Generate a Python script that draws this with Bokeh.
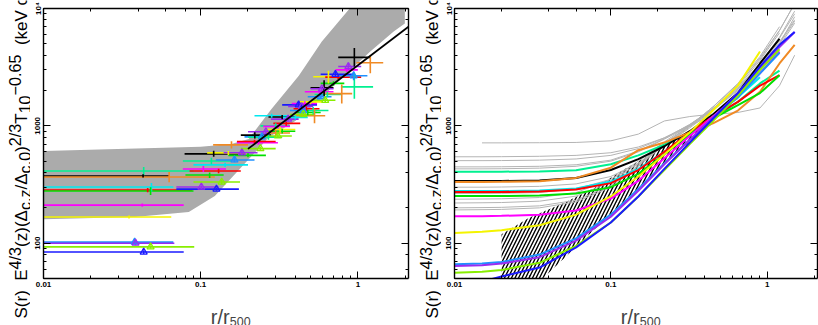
from math import pi, nan
from bokeh.plotting import figure
from bokeh.models import Label, LogAxis, CustomJSTickFormatter, Range1d
from bokeh.layouts import row, column
from bokeh.embed import file_html
from bokeh.resources import INLINE

# ---------------- data: left panel ----------------
band_r = [0.01, 0.1, 0.157, 0.202, 0.283, 0.421, 0.59, 0.92, 1.99,
          1.99, 1.69, 1.2, 0.8, 0.55, 0.4, 0.272, 0.182, 0.123, 0.084, 0.038, 0.01]
band_S = [611, 662, 700, 774, 1397, 2675, 5224, 10600, 12000,
          7450, 6360, 4300, 2600, 1600, 1100, 800, 446, 252, 184, 167, 160]

fit_r = [0.2, 2.1]
fit_S = [636, 7000]

cr_col = ["spring", "black", "orange", "cyan", "red", "green", "magenta", "yellow", "dodger", "purple", "chart", "blue",
          "black", "spring", "cyan", "dodger", "magenta", "red", "green", "chart", "purple", "blue", "orange", "yellow",
          "purple", "green", "black", "purple", "dodger", "magenta", "red", "spring", "chart", "cyan", "black", "purple",
          "spring", "yellow", "orange", "chart", "green", "red", "magenta", "blue", "purple", "dodger", "spring", "orange",
          "green", "chart", "red", "magenta", "cyan", "yellow", "black", "purple", "magenta", "dodger", "spring", "yellow",
          "blue", "red", "orange", "spring", "green", "chart", "black", "purple", "dodger", "orange", "magenta"]
cr_r = [0.0434, 0.043, 0.063, 0.0486, 0.046, 0.048, 0.0425, 0.035, 0.038, 0.0385, 0.048, 0.0434,
        0.121, 0.117, 0.143, 0.164, 0.104, 0.13, 0.114, 0.136, 0.101, 0.126, 0.157, 0.15,
        0.183, 0.2, 0.221, 0.26, 0.245, 0.233, 0.22, 0.27, 0.24, 0.283, 0.33, 0.36,
        0.3, 0.32, 0.3, 0.31, 0.33, 0.35, 0.31, 0.42, 0.44, 0.45, 0.52, 0.53,
        0.48, 0.45, 0.47, 0.46, 0.4, 0.5, 0.61, 0.59, 0.57, 0.58, 0.64, 0.65,
        0.72, 0.75, 0.79, 0.95, 0.7, 0.62, 0.95, 0.87, 0.94, 1.2, 0.85]
cr_rlo = [0.009, 0.009, 0.009, 0.009, 0.009, 0.009, 0.009, 0.009, 0.009, 0.009, 0.009, 0.009,
          0.079, 0.077, 0.09, 0.125, 0.077, 0.085, 0.08, 0.09, 0.07, 0.07, 0.12, 0.11,
          0.14, 0.15, 0.18, 0.2, 0.19, 0.17, 0.17, 0.2, 0.18, 0.22, 0.27, 0.28,
          0.24, 0.26, 0.26, 0.25, 0.27, 0.29, 0.25, 0.33, 0.36, 0.37, 0.42, 0.4,
          0.4, 0.37, 0.39, 0.38, 0.33, 0.42, 0.5, 0.5, 0.46, 0.48, 0.53, 0.52,
          0.58, 0.62, 0.62, 0.78, 0.58, 0.52, 0.75, 0.75, 0.75, 0.98, 0.72]
cr_rhi = [0.090, 0.063, 0.123, 0.067, 0.088, 0.090, 0.078, 0.065, 0.067, 0.068, 0.091, 0.078,
          0.19, 0.157, 0.2, 0.22, 0.145, 0.18, 0.14, 0.178, 0.13, 0.175, 0.2, 0.2,
          0.23, 0.26, 0.28, 0.32, 0.3, 0.31, 0.3, 0.33, 0.3, 0.36, 0.4, 0.42,
          0.37, 0.4, 0.37, 0.38, 0.4, 0.43, 0.37, 0.55, 0.52, 0.55, 0.65, 0.62,
          0.58, 0.53, 0.57, 0.55, 0.48, 0.6, 0.7, 0.7, 0.7, 0.68, 0.78, 0.8,
          0.95, 1.05, 0.92, 1.25, 0.82, 0.72, 1.2, 1.05, 1.15, 1.45, 1.0]
cr_S = [412, 374, 366, 301, 284, 278, 211, 167, 102, 100, 93, 84,
        577, 502, 465, 512, 429, 412, 381, 332, 301, 289, 688, 588,
        589, 560, 834, 890, 806, 717, 735, 800, 640, 1220, 1190, 1140,
        1000, 930, 870, 820, 900, 1050, 990, 1510, 1460, 1350, 1350, 1220,
        1300, 1250, 1400, 1550, 1180, 1600, 2110, 2070, 1950, 1770, 1850, 2620,
        2750, 2600, 1880, 2150, 2300, 1650, 3830, 3200, 2670, 3450, 3000]
cr_Slo = [380, 362, 330, 275, 272, 257, 204, 162, 98, 96, 90, 81,
          545, 470, 445, 490, 405, 395, 360, 320, 290, 280, 640, 565,
          565, 540, 780, 850, 770, 690, 710, 760, 615, 1170, 1140, 1090,
          950, 880, 820, 790, 860, 1000, 950, 1440, 1400, 1290, 1250, 1050,
          1230, 1200, 1340, 1480, 1130, 1530, 1800, 1980, 1860, 1690, 1750, 2300,
          2620, 2480, 1550, 1700, 2200, 1580, 3200, 3000, 2450, 2800, 2880]
cr_Shi = [445, 386, 405, 325, 296, 300, 218, 172, 106, 104, 96, 87,
          612, 535, 485, 535, 455, 430, 400, 345, 312, 298, 740, 610,
          612, 585, 880, 930, 840, 745, 760, 840, 665, 1270, 1240, 1190,
          1050, 980, 920, 850, 940, 1100, 1030, 1580, 1520, 1410, 1450, 1400,
          1370, 1300, 1460, 1620, 1230, 1670, 2450, 2160, 2040, 1850, 1950, 2950,
          2880, 2720, 2250, 2800, 2400, 1720, 4600, 3450, 2900, 4000, 3120]
cr_tri = [0, 0, 0, 0, 0, 0, 0, 0, 1, 1, 1, 1,
          0, 0, 0, 1, 0, 0, 0, 1, 1, 1, 0, 0,
          1, 0, 0, 1, 1, 0, 0, 0, 1, 0, 0, 1,
          0, 0, 0, 1, 0, 0, 0, 1, 1, 1, 0, 0,
          0, 1, 0, 0, 0, 0, 0, 1, 0, 1, 0, 0,
          1, 0, 0, 0, 0, 1, 0, 1, 1, 0, 0]

# ---------------- data: right panel ----------------
r_grid = [0.01, 0.015, 0.02, 0.035, 0.06, 0.1, 0.15, 0.22, 0.32, 0.45, 0.65, 0.9, 1.2, 1.5, 1.9]

S_gray1 = [nan, 716, 716, 718, 722, 745, 850, 1100, 1200, 1260, 1700, 2900, 5000, 8500, nan]
S_gray2 = [545, 545, 546, 550, 560, 590, 660, 790, 1000, 1350, 2050, 3400, 5600, 9000, nan]
S_gray3 = [505, 505, 506, 510, 522, 560, 640, 790, 1020, 1400, 2200, 3800, 6500, 11000, nan]
S_gray4 = [447, 447, 448, 452, 466, 510, 610, 780, 1030, 1400, 2100, 3300, 5200, 8000, nan]
S_gray5 = [430, 430, 431, 436, 452, 500, 600, 770, 1000, 1250, 1300, 1420, 2200, 4000, nan]
S_gray6 = [237, 238, 239, 245, 270, 350, 500, 730, 1020, 1400, 2100, 3400, 5700, 9500, nan]
S_gray7 = [220, 221, 222, 228, 252, 330, 480, 710, 1000, 1400, 2150, 3600, 6200, nan, nan]
S_gray8 = [200, 201, 202, 208, 232, 310, 460, 700, 1000, 1450, 2300, 3900, 7000, nan, nan]
S_gray9 = [192, 193, 194, 200, 225, 300, 450, 690, 1000, 1450, 2250, 3700, 6500, 11000, nan]
S_gray10 = [300, 300, 301, 305, 320, 370, 480, 680, 960, 1350, 2000, 3100, 4800, 7500, nan]
S_gray11 = [265, 265, 266, 270, 290, 350, 470, 680, 980, 1380, 2050, 3200, 5000, 7800, nan]

S_spring = [407, 407, 407, 408, 418, 470, 560, 690, 880, 1150, 1600, 2300, 2950, nan, nan]
S_black = [339, 339, 339, 342, 360, 420, 520, 670, 900, 1250, 1900, 3400, 5500, nan, nan]
S_orange = [332, 332, 333, 337, 360, 440, 620, 720, 880, 1050, 1350, 1950, 3400, 4900, nan]
S_cyan = [278, 278, 278, 281, 292, 335, 430, 600, 850, 1200, 1750, 2600, nan, nan, nan]
S_red = [273, 273, 273, 276, 287, 325, 420, 600, 880, 1200, 1600, 2200, 2700, nan, nan]
S_green = [252, 252, 252, 255, 265, 300, 390, 570, 850, 1150, 1500, 1900, 2700, nan, nan]
S_magenta = [170, 170, 171, 175, 190, 240, 340, 530, 820, 1200, 1800, 2800, 4300, nan, nan]
S_yellow = [122, 125, 129, 142, 175, 250, 370, 570, 880, 1350, 2200, 4300, nan, nan, nan]
S_dodger = [66, 67, 69, 80, 110, 175, 290, 480, 760, 1150, 1750, 2800, 4200, nan, nan]
S_purple = [64, 65, 67, 76, 105, 168, 280, 470, 760, 1180, 1900, 3100, 4700, 6300, nan]
S_chart = [56, 57, 59, 68, 95, 150, 250, 420, 700, 1100, 1800, 3000, 4500, nan, nan]
S_blue = [nan, 47, 52, 62, 92, 150, 250, 430, 720, 1150, 1900, 3200, 4900, 6300, nan]

hatch_r = [0.02, 0.0367, 0.11, 0.22, 0.33, 0.45, 0.45, 0.3, 0.2, 0.12, 0.08, 0.05, 0.03, 0.02]
hatch_S = [45, 50, 200, 470, 760, 1050, 1150, 850, 620, 420, 300, 220, 165, 119]

COL = dict(black="#000000", orange="#f08a24", spring="#00f090", cyan="#00e8f0", red="#ff0000",
           green="#00e000", magenta="#ff00ff", yellow="#f4f400", dodger="#1e90ff", purple="#9a2cf0",
           chart="#88ee00", blue="#1a1aff")
GRAY = "#b4b4b4"

FONT = "Liberation Sans"
W = {'S': .667, '(': .333, ')': .333, 'r': .333, ' ': .278, 'E': .667, '4': .556, '/': .278, '3': .556,
     'z': .5, 'Δ': .668, 'c': .5, ',': .278, '0': .556, '2': .556, 'T': .611, '1': .556, '−': .584,
     '.': .278, '6': .556, '5': .556, 'k': .5, 'e': .556, 'V': .667, 'm': .833}

YLABEL_SEGS = [("S(r)", 0), ("  ", 0), ("E", 0), ("4/3", 1), ("(z)(Δ", 0), ("c,z", -1), ("/Δ", 0),
               ("c,0", -1), (")", 0), ("2/3", 1), ("T", 0), ("10", -1), ("−0.65", 1), ("  ", 0),
               ("(keV", 0), (" ", 0), ("cm", 0), ("2", 1), (")", 0)]


def tw(s, size):
    return sum(W.get(ch, 0.556) for ch in s) * size


def label_fig(w, h):
    f = figure(width=w, height=h, x_range=Range1d(0, w), y_range=Range1d(0, h),
               x_axis_location=None, y_axis_location=None, min_border=0,
               output_backend="svg", toolbar_location=None)
    f.grid.visible = False
    f.outline_line_color = None
    f.background_fill_color = "white"
    f.border_fill_color = "white"
    return f


def add_ylabel(f, bx, by, F, ratio=0.95):
    pos = by
    for txt, kind in YLABEL_SEGS:
        size = F if kind == 0 else F * ratio
        if txt.strip() == "":
            pos += tw(txt, size)
            continue
        off = 0 if kind == 0 else (-0.35 * F if kind == 1 else 0.22 * F)
        f.add_layout(Label(x=bx + off, y=pos, text=txt,
                           angle=pi / 2, text_font=FONT, text_font_size=f"{size:.1f}px",
                           text_align="left", text_baseline="alphabetic", text_color="black"))
        pos += tw(txt, size)


def add_xlabel(f, cx, by):
    F1, F2 = 20, 12.5
    w1 = tw("r/r", F1)
    w2 = tw("500", F2)
    x0 = cx - (w1 + w2) / 2
    f.add_layout(Label(x=x0, y=by, text="r/r", text_font=FONT,
                       text_font_size=f"{F1}px", text_align="left", text_baseline="alphabetic"))
    f.add_layout(Label(x=x0 + w1 + 1, y=by - 5, text="500", text_font=FONT,
                       text_font_size=f"{F2}px", text_align="left", text_baseline="alphabetic"))


XFMT = """const e = Math.round(Math.log10(tick));
if (e == -2) return "0.01"; if (e == -1) return "0.1"; if (e == 0) return "1"; return "";"""
YFMT = """const e = Math.round(Math.log10(tick));
if (e == 2) return "100"; if (e == 3) return "1000"; if (e == 4) return "10\u2074"; return "";"""


def style_axis(ax, labels=True, fmt=None, vertical=False):
    ax.major_tick_in = 7
    ax.major_tick_out = 0
    ax.minor_tick_in = 3
    ax.minor_tick_out = 0
    ax.axis_line_color = "black"
    ax.axis_line_width = 1.4
    ax.major_tick_line_color = "black"
    ax.minor_tick_line_color = "black"
    ax.major_tick_line_width = 1
    ax.minor_tick_line_width = 1
    if labels:
        ax.formatter = CustomJSTickFormatter(code=fmt)
        ax.major_label_text_font = FONT
        ax.major_label_text_font_style = "bold"
        ax.major_label_text_font_size = "8px"
        ax.major_label_text_color = "black"
        ax.major_label_standoff = 3
        if vertical:
            ax.major_label_orientation = "vertical"
            ax.major_label_standoff = 1
    else:
        ax.formatter = CustomJSTickFormatter(code="return '';")
        ax.major_label_standoff = 0


TOP_B = 8
FRAME_H = 270
BOT_B = 14
TOTAL_H = 325
PLOT_H = TOP_B + FRAME_H + BOT_B
XLAB_H = TOTAL_H - PLOT_H


def make_fig(bl, fw, br):
    p = figure(x_axis_type="log", y_axis_type="log",
               x_range=Range1d(0.01, 2.1), y_range=Range1d(50, 1e4),
               frame_width=fw, frame_height=FRAME_H,
               min_border_left=bl, min_border_right=br, min_border_top=TOP_B, min_border_bottom=BOT_B,
               output_backend="svg", toolbar_location=None)
    p.grid.visible = False
    p.outline_line_color = None
    p.background_fill_color = "white"
    p.border_fill_color = "white"
    style_axis(p.xaxis[0], True, XFMT)
    style_axis(p.yaxis[0], True, YFMT, vertical=True)
    top = LogAxis()
    right = LogAxis()
    style_axis(top, False)
    style_axis(right, False)
    p.add_layout(top, "above")
    p.add_layout(right, "right")
    return p


# ---------------- left panel ----------------
p1 = make_fig(12, 365, 3)
p1.patch(band_r, band_S, fill_color="#ababab", line_color=None)
cols = [COL[c] for c in cr_col]
p1.segment(x0=cr_rlo, x1=cr_rhi, y0=cr_S, y1=cr_S, line_color=cols, line_width=1.6)
p1.segment(x0=cr_r, x1=cr_r, y0=cr_Slo, y1=cr_Shi, line_color=cols, line_width=1.6)
tri_r = [r for r, t in zip(cr_r, cr_tri) if t]
tri_S = [s for s, t in zip(cr_S, cr_tri) if t]
tri_c = [c for c, t in zip(cols, cr_tri) if t]
p1.scatter(tri_r, tri_S, marker="triangle", size=7, fill_color=None, line_color=tri_c, line_width=1.3)
p1.line(fit_r, fit_S, line_color="black", line_width=1.8)

ylab1 = label_fig(30, TOTAL_H)
add_ylabel(ylab1, 20.5, 7, 17)
xlab1 = label_fig(12 + 365 + 3, XLAB_H)
add_xlabel(xlab1, 12 + 182.5, 9)

# ---------------- right panel ----------------
p2 = make_fig(12, 363, 3)
p2.patch(hatch_r, hatch_S, fill_color=None, line_color=None, hatch_pattern="/",
         hatch_color="black", hatch_scale=7, hatch_weight=1.4)
for S in [S_gray1, S_gray2, S_gray3, S_gray4, S_gray5, S_gray6, S_gray7, S_gray8, S_gray9, S_gray10, S_gray11]:
    p2.line(r_grid, S, line_color=GRAY, line_width=1)
for S, c in [(S_spring, "spring"), (S_black, "black"), (S_orange, "orange"), (S_cyan, "cyan"),
             (S_red, "red"), (S_green, "green"), (S_magenta, "magenta"), (S_yellow, "yellow"),
             (S_dodger, "dodger"), (S_purple, "purple"), (S_chart, "chart"), (S_blue, "blue")]:
    p2.line(r_grid, S, line_color=COL[c], line_width=2)

ylab2 = label_fig(30, TOTAL_H)
add_ylabel(ylab2, 20.5, 7, 17)
xlab2 = label_fig(12 + 363 + 3, XLAB_H)
add_xlabel(xlab2, 12 + 181.5, 9)

layout = row(ylab1, column(p1, xlab1), ylab2, column(p2, xlab2))
open("out.html", "w").write(file_html(layout, INLINE))
